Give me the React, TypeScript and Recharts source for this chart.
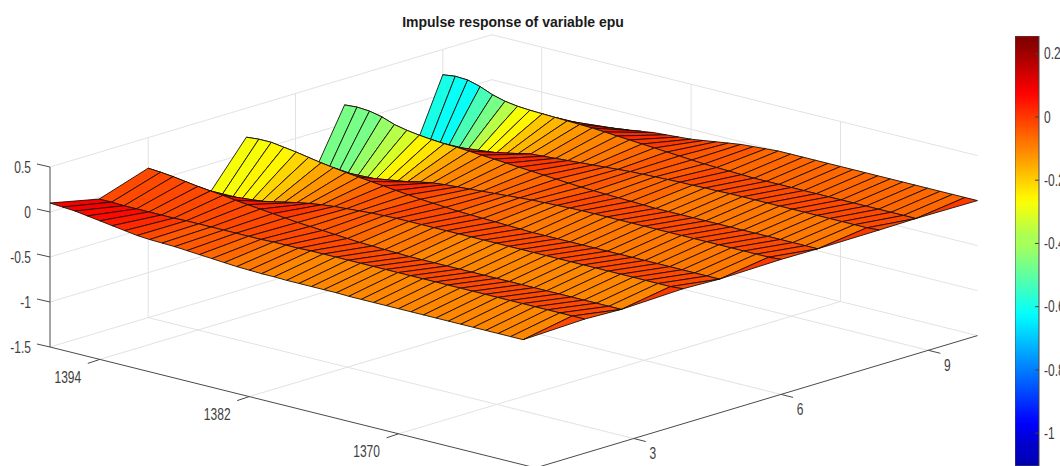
// Impulse response surface of epu, drawn as one filled Scatter polygon per cell.
import { Bar, BarChart, Scatter, ScatterChart, XAxis, YAxis } from "recharts";

const dates = [
  1398, 1397, 1396, 1395, 1394, 1393, 1392, 1391, 1390, 1389, 1388, 1387, 1386, 1385, 1384, 1383, 1382, 1381, 1380, 1379,
  1378, 1377, 1376, 1375, 1374, 1373, 1372, 1371, 1370, 1369, 1368, 1367, 1366, 1365, 1364, 1363, 1362, 1361, 1360, 1359,
];
const horizons = [1, 2, 3, 4, 5, 6, 7, 8, 9, 10];

const horizon1 = [0.1, 0.09, 0.08, 0.06, 0.04, 0.02, 0, -0.02, -0.03, -0.035, -0.04, -0.05, -0.06, -0.07, -0.08, -0.09, -0.095, -0.1, -0.1, -0.105, -0.105, -0.105, -0.105, -0.105, -0.11, -0.11, -0.11, -0.11, -0.11, -0.11, -0.11, -0.11, -0.11, -0.11, -0.11, -0.11, -0.11, -0.11, -0.11, null];
const horizon2 = [-0.02, -0.02, -0.025, -0.025, -0.025, -0.025, -0.025, -0.02, -0.02, -0.02, -0.02, -0.02, -0.02, -0.02, -0.015, -0.015, -0.015, -0.01, -0.01, -0.01, -0.01, -0.01, -0.01, -0.01, -0.01, -0.01, -0.01, -0.01, -0.01, -0.01, -0.01, -0.01, -0.01, -0.01, -0.01, -0.01, -0.01, -0.01, -0.01, -0.01];
const horizon3 = [0.16, 0.15, 0.135, 0.115, 0.095, 0.08, 0.065, 0.045, 0.03, 0.015, 0, -0.015, -0.03, -0.04, -0.05, -0.06, -0.07, -0.08, -0.085, -0.09, -0.095, -0.1, -0.1, -0.1, -0.1, -0.1, -0.1, -0.1, -0.1, -0.1, -0.1, -0.1, -0.1, -0.1, -0.1, -0.1, -0.1, -0.1, -0.1, null];
const horizon4 = [-0.49, -0.47, -0.42, -0.34, -0.28, -0.22, -0.18, -0.14, -0.11, -0.085, -0.065, -0.05, -0.04, -0.03, -0.02, -0.015, -0.01, -0.01, -0.01, -0.01, -0.01, -0.01, -0.01, -0.01, -0.01, -0.01, -0.01, -0.01, -0.01, -0.01, -0.01, -0.01, -0.01, -0.01, -0.01, -0.01, -0.01, -0.01, -0.01, 0];
const horizon5 = [0.178, 0.19, 0.19, 0.17, 0.15, 0.125, 0.1, 0.08, 0.06, 0.045, 0.03, 0.015, 0, -0.015, -0.03, -0.04, -0.05, -0.06, -0.065, -0.07, -0.075, -0.08, -0.085, -0.09, -0.09, -0.09, -0.09, -0.09, -0.09, -0.09, -0.09, -0.09, -0.09, -0.09, -0.09, -0.09, -0.09, -0.09, -0.09, null];
const horizon6 = [-0.84, -0.8, -0.7, -0.56, -0.47, -0.39, -0.31, -0.27, -0.22, -0.17, -0.14, -0.115, -0.1, -0.09, -0.08, -0.07, -0.06, -0.05, -0.04, -0.03, -0.025, -0.02, -0.015, -0.01, -0.01, -0.01, -0.01, -0.01, -0.01, -0.01, -0.01, -0.01, -0.01, -0.01, -0.01, -0.01, -0.01, -0.01, -0.01, 0];
const horizon7 = [0.21, 0.22, 0.21, 0.18, 0.13, 0.1, 0.08, 0.065, 0.055, 0.05, 0.04, 0.03, 0.02, 0.01, 0, -0.01, -0.02, -0.03, -0.04, -0.05, -0.055, -0.06, -0.065, -0.07, -0.075, -0.08, -0.08, -0.08, -0.08, -0.08, -0.08, -0.08, -0.08, -0.08, -0.08, -0.08, -0.08, -0.08, -0.08, null];
const horizon8 = [-1.05, -1.0, -0.85, -0.67, -0.56, -0.45, -0.37, -0.3, -0.24, -0.19, -0.15, -0.12, -0.11, -0.1, -0.09, -0.08, -0.07, -0.06, -0.05, -0.04, -0.035, -0.03, -0.025, -0.02, -0.02, -0.015, -0.015, -0.01, -0.01, -0.01, -0.01, -0.01, -0.01, -0.01, -0.01, -0.01, -0.01, -0.01, -0.01, 0];
const horizon9 = [0.218, 0.236, 0.229, 0.19, 0.133, 0.096, 0.075, 0.065, 0.06, 0.055, 0.05, 0.045, 0.04, 0.03, 0.02, 0.01, 0, -0.01, -0.02, -0.03, -0.04, -0.05, -0.055, -0.06, -0.065, -0.07, -0.07, -0.07, -0.07, -0.07, -0.07, -0.07, -0.07, -0.07, -0.07, -0.07, -0.07, -0.07, -0.07, null];
const horizon10 = [-0.62, -0.62, -0.6, -0.55, -0.5, -0.45, -0.4, -0.34, -0.28, -0.24, -0.2, -0.18, -0.16, -0.14, -0.13, -0.12, -0.11, -0.09, -0.07, -0.05, -0.03, -0.02, -0.01, 0, 0, 0, 0, 0, 0, 0, 0, 0, 0, 0, 0, 0, 0, 0, 0, 0];
const surface = [horizon1, horizon2, horizon3, horizon4, horizon5, horizon6, horizon7, horizon8, horizon9, horizon10];

// the walls behind the valleys are shaded lighter than their depth, read apart from the heights
const wallShade4 = [-0.28, -0.28, -0.27, -0.25, -0.22, -0.19, -0.16, -0.13, -0.1];
const wallShade6 = [-0.46, -0.46, -0.46, -0.42, -0.38, -0.33, -0.27, -0.24, -0.2, -0.16, -0.13, -0.11];
const wallShade8 = [-0.6, -0.62, -0.62, -0.52, -0.46, -0.37, -0.29, -0.25, -0.2, -0.17, -0.14, -0.12];
const wallShades: Record<number, number[]> = { 3: wallShade4, 5: wallShade6, 7: wallShade8 };

const zTicks = [0.5, 0, -0.5, -1, -1.5];
const zTickLabels = ["0.5", "0", "-0.5", "-1", "-1.5"];
const dateTicks = [1394, 1382, 1370];
const horizonTicks = [3, 6, 9];
const colorbarTicks = [0.2, 0, -0.2, -0.4, -0.6, -0.8, -1];
const colorbarLabels = ["0.2", "0", "-0.2", "-0.4", "-0.6", "-0.8", "-1"];

const dateMax = 1398;
const dateMin = 1359;
const zFloor = -1.5;
const zTop = 0.5;
const colorMin = -1.15;
const colorMax = 0.256;
const colorbarBottom = -1.104;

// camera of the MATLAB view, orthographic
function project(date: number, horizon: number, z: number) {
  const back = dateMax - date;
  return {
    x: 50 + back * 12.45 + (horizon - 1) * 49.1,
    y: 347 + back * 3.1 - (horizon - 1) * 14.7 - (z - zFloor) * 90,
  };
}

function jet(value: number) {
  const t = Math.max(0, Math.min(1, (value - colorMin) / (colorMax - colorMin)));
  const level = (Math.floor(t * 63.999) + 0.5) / 64;
  const ramp = (center: number) => Math.max(0, Math.min(1, 1.5 - Math.abs(4 * level - center)));
  const channel = (center: number) => Math.round(ramp(center) * 255);
  return `rgb(${channel(3)},${channel(2)},${channel(1)})`;
}

type Pt = { x: number; y: number };

// far cells first so the nearer ones cover them
function buildCells() {
  const cells: { pts: Pt[]; fill: string }[] = [];
  for (let h = horizons.length - 2; h >= 0; h--) {
    for (let d = 0; d < dates.length - 1; d++) {
      const corners: [number, number][] = [[h, d], [h + 1, d], [h + 1, d + 1], [h, d + 1]];
      const pts: Pt[] = [];
      corners.forEach(([i, j]) => {
        const z = surface[i][j];
        if (z !== null) pts.push(project(dates[j], horizons[i], z));
      });
      if (pts.length < 3) continue;
      const own = wallShades[h]?.[d] ?? (surface[h][d] as number);
      const value = surface[h][d + 1] === null ? (surface[h + 1][d + 1] as number) : own;
      cells.push({ pts: [...pts, pts[0]], fill: jet(value) });
    }
  }
  return cells;
}

function buildGrid() {
  const lines: Pt[][] = [];
  zTicks.forEach((z) => {
    lines.push([project(dateMax, 1, z), project(dateMax, 10, z), project(dateMin, 10, z)]);
  });
  horizonTicks.forEach((h) => {
    lines.push([project(dateMin, h, zFloor), project(dateMax, h, zFloor), project(dateMax, h, zTop)]);
  });
  dateTicks.forEach((d) => {
    lines.push([project(d, 1, zFloor), project(d, 10, zFloor), project(d, 10, zTop)]);
  });
  return lines;
}

function buildAxes() {
  const lines: Pt[][] = [
    [project(dateMax, 1, zTop), project(dateMax, 1, zFloor), project(dateMin, 1, zFloor), project(dateMin, 10, zFloor)],
  ];
  zTicks.forEach((z) => {
    const p = project(dateMax, 1, z);
    lines.push([p, { x: p.x - 13, y: p.y - 3 }]);
  });
  dateTicks.forEach((d) => {
    const p = project(d, 1, zFloor);
    lines.push([p, { x: p.x - 12, y: p.y + 4 }]);
  });
  horizonTicks.forEach((h) => {
    const p = project(dateMin, h, zFloor);
    lines.push([p, { x: p.x + 12, y: p.y + 3 }]);
  });
  return lines;
}

function buildLabels() {
  const labels: { x: number; y: number; text: string; anchor: string }[] = [];
  zTicks.forEach((z, i) => {
    const p = project(dateMax, 1, z);
    labels.push({ x: p.x - 19, y: p.y, text: zTickLabels[i], anchor: "end" });
  });
  dateTicks.forEach((d) => {
    const p = project(d, 1, zFloor);
    labels.push({ x: p.x - 32, y: p.y + 18, text: String(d), anchor: "middle" });
  });
  horizonTicks.forEach((h) => {
    const p = project(dateMin, h, zFloor);
    labels.push({ x: p.x + 19, y: p.y + 15, text: String(h), anchor: "middle" });
  });
  return labels;
}

function TickText({ cx, cy, payload }: any) {
  return (
    <text
      transform={`translate(${cx},${cy}) scale(1,1.35)`}
      dy="0.35em"
      textAnchor={payload.anchor}
      fontSize={12}
      fontFamily="Liberation Sans"
      fill="#404040"
    >
      {payload.text}
    </text>
  );
}

function ColorbarTick({ x, y, payload, index }: any) {
  return (
    <g>
      <line x1={x - 12} x2={x - 8} y1={y} y2={y} stroke="#404040" />
      <text
        transform={`translate(${x - 3},${y}) scale(1,1.35)`}
        dy="0.35em"
        fontSize={12}
        fontFamily="Liberation Sans"
        fill="#404040"
      >
        {colorbarLabels[index] ?? payload.value}
      </text>
    </g>
  );
}

const hidden = () => <g />;

const colorbarData = [{ name: "epu", range: [colorbarBottom, colorMax] }];
const colorbarStops = Array.from({ length: 65 }, (_, i) => i / 64);

export default function App() {
  const gridLines = buildGrid();
  const axisLines = buildAxes();
  const cells = buildCells();
  const labels = buildLabels();

  return (
    <div style={{ position: "absolute", left: 0, top: 0, width: 1060, height: 466, overflow: "hidden", background: "#fff" }}>
      <ScatterChart width={1060} height={466} margin={{ top: 0, right: 0, bottom: 0, left: 0 }}>
        <XAxis type="number" dataKey="x" domain={[0, 1060]} allowDataOverflow hide />
        <YAxis type="number" dataKey="y" domain={[0, 466]} reversed allowDataOverflow hide />
        {gridLines.map((pts, i) => (
          <Scatter key={`grid${i}`} data={pts} line={{ stroke: "#e2e2e2", strokeWidth: 1 }} shape={hidden} isAnimationActive={false} />
        ))}
        {axisLines.map((pts, i) => (
          <Scatter key={`axis${i}`} data={pts} line={{ stroke: "#4a4a4a", strokeWidth: 1 }} shape={hidden} isAnimationActive={false} />
        ))}
        {cells.map((cell, i) => (
          <Scatter
            key={`cell${i}`}
            data={cell.pts}
            line={{ stroke: "#1c1008", strokeWidth: 0.9, fill: cell.fill, strokeLinejoin: "round" }}
            shape={hidden}
            isAnimationActive={false}
          />
        ))}
        <Scatter data={labels} shape={TickText} isAnimationActive={false} />
      </ScatterChart>

      <div
        style={{
          position: "absolute",
          left: 313,
          width: 400,
          top: 13,
          textAlign: "center",
          fontFamily: "Liberation Sans",
          fontWeight: "bold",
          fontSize: 14,
          lineHeight: "18px",
          color: "#1a1a1a",
        }}
      >
        Impulse response of variable epu
      </div>

      <div style={{ position: "absolute", left: 1015, top: 0 }}>
        <BarChart width={45} height={466} data={colorbarData} margin={{ top: 36, right: 0, bottom: 0, left: 0 }} barCategoryGap={0}>
          <defs>
            <linearGradient id="jetBar" x1="0" y1="0" x2="0" y2="1">
              {colorbarStops.map((o) => (
                <stop key={o} offset={o} stopColor={jet(colorMax - o * (colorMax - colorbarBottom))} />
              ))}
            </linearGradient>
          </defs>
          <XAxis dataKey="name" hide />
          <YAxis
            orientation="right"
            width={21}
            type="number"
            domain={[colorbarBottom, colorMax]}
            ticks={colorbarTicks}
            allowDataOverflow
            interval={0}
            axisLine={false}
            tickLine={false}
            tick={ColorbarTick}
          />
          <Bar dataKey="range" fill="url(#jetBar)" stroke="#4a4a4a" isAnimationActive={false} />
        </BarChart>
      </div>
    </div>
  );
}
